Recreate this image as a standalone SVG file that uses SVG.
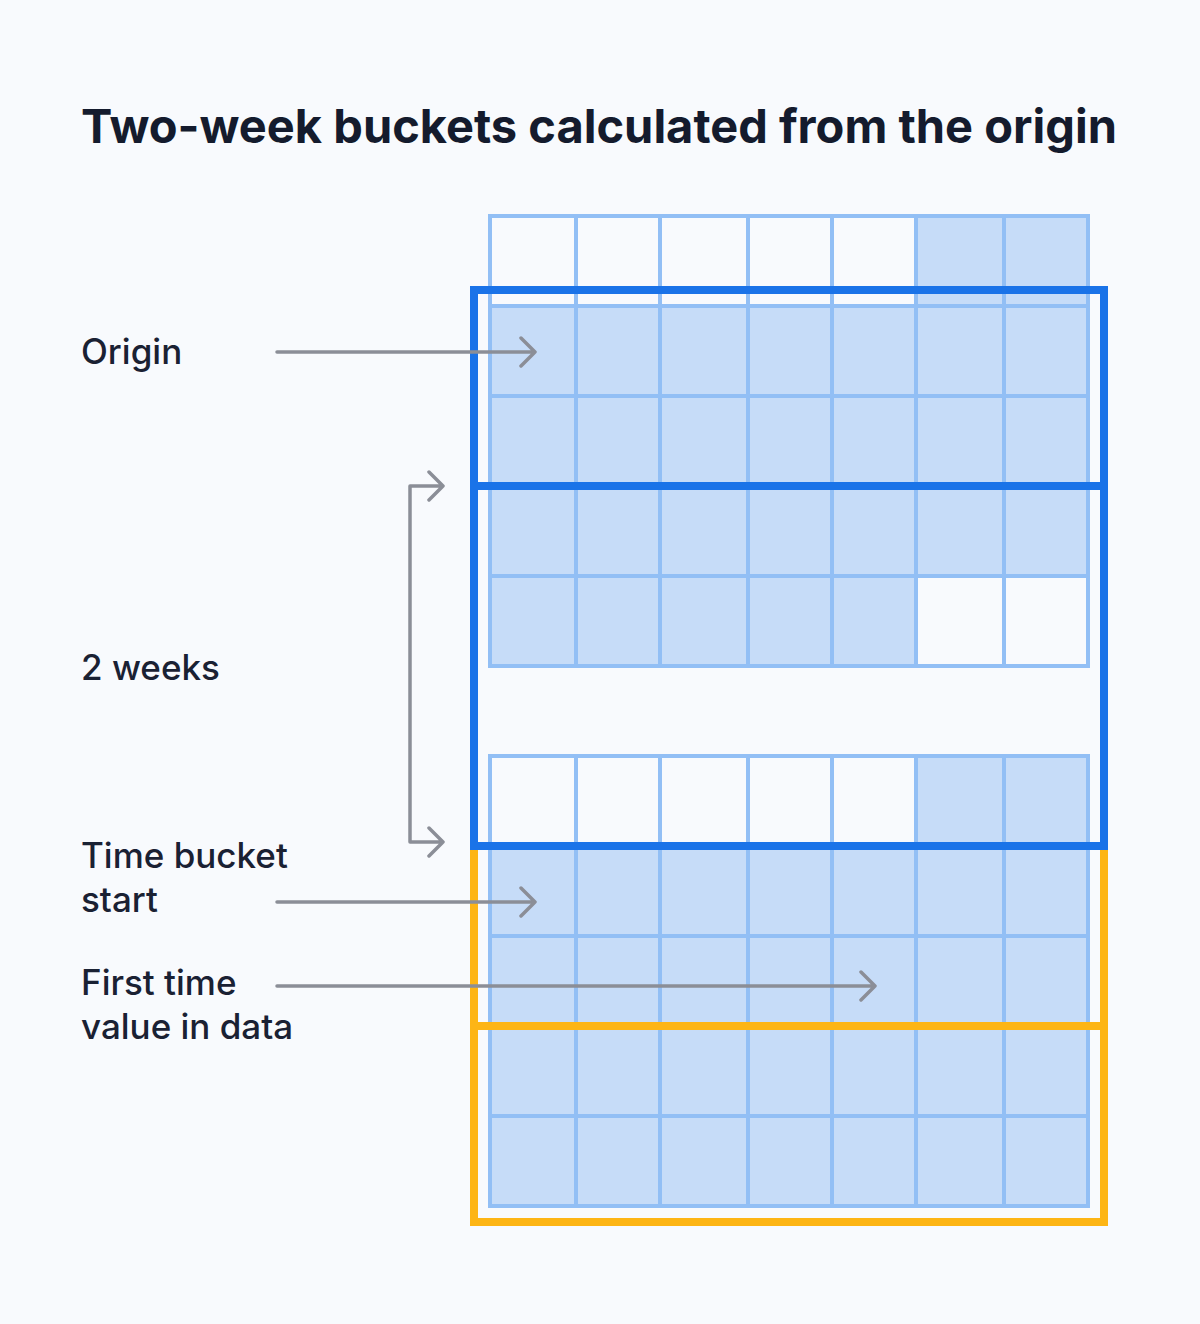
<svg xmlns="http://www.w3.org/2000/svg" width="1200" height="1324" viewBox="0 0 1200 1324">
<style>
.bg{fill:#f8fafd}
.title{font-family:Inter,"Noto Sans","Liberation Sans",sans-serif;font-weight:700;font-size:47px;fill:#141b2d}
.lbl{font-family:Inter,"Noto Sans","Liberation Sans",sans-serif;font-weight:500;font-size:35px;fill:#1a2133}
.cell{fill:#c6dcf8}
.grid{fill:none;stroke:#92bff5;stroke-width:4}
.blue{fill:none;stroke:#1a73e8;stroke-width:8}
.orange{fill:none;stroke:#fdb515;stroke-width:8}
.arr{fill:none;stroke:#8b8e97;stroke-width:3.5;stroke-linecap:round;stroke-linejoin:round}
</style>
<rect class="bg" x="0" y="0" width="1200" height="1324"/>
<g id="title"><text class="title" x="81" y="143">Two-week buckets calculated from the origin</text></g>
<g id="grid-top">
<rect class="cell" x="916" y="216" width="172" height="90"/>
<rect class="cell" x="490" y="306" width="598" height="270"/>
<rect class="cell" x="490" y="576" width="426" height="90"/>
<path class="grid" d="M490 216V666M576 216V666M660 216V666M748 216V666M832 216V666M916 216V666M1004 216V666M1088 216V666M488 216H1090M488 306H1090M488 396H1090M488 486H1090M488 576H1090M488 666H1090"/>
</g>
<g id="grid-bottom">
<rect class="cell" x="916" y="756" width="172" height="90"/>
<rect class="cell" x="490" y="846" width="598" height="360"/>
<path class="grid" d="M490 756V1206M576 756V1206M660 756V1206M748 756V1206M832 756V1206M916 756V1206M1004 756V1206M1088 756V1206M488 756H1090M488 846H1090M488 936H1090M488 1026H1090M488 1116H1090M488 1206H1090"/>
</g>
<g id="bucket-orange">
<rect class="orange" x="474" y="846" width="630" height="376"/>
<path class="orange" d="M474 1026H1104"/>
</g>
<g id="bucket-blue">
<rect class="blue" x="474" y="290" width="630" height="556"/>
<path class="blue" d="M474 486H1104"/>
</g>
<g id="labels">
<text class="lbl" x="81" y="364">Origin</text>
<text class="lbl" x="81" y="680">2 weeks</text>
<text class="lbl" x="81" y="868">Time bucket</text>
<text class="lbl" x="81" y="912">start</text>
<text class="lbl" x="81" y="995">First time</text>
<text class="lbl" x="81" y="1039">value in data</text>
</g>
<g id="connectors">
<path class="arr" d="M277 352H535M521 338L535 352L521 366"/>
<path class="arr" d="M443 486H410V842H443M429 472L443 486L429 500M429 828L443 842L429 856"/>
<path class="arr" d="M277 902H535M521 888L535 902L521 916"/>
<path class="arr" d="M277 986H875M861 972L875 986L861 1000"/>
</g>
</svg>
